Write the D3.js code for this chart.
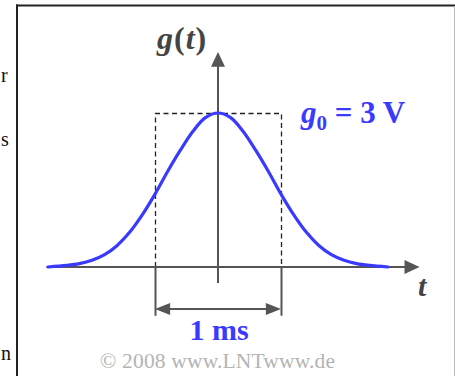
<!DOCTYPE html>
<html>
<head>
<meta charset="utf-8">
<script src="https://cdn.jsdelivr.net/npm/d3@7"></script>
<style>
  html, body { margin: 0; padding: 0; background: #fff; }
  svg { display: block; }
</style>
</head>
<body>
<script>
// Gaussian pulse g(t): time in ms, amplitude in volts
const tMs    = [-1.35, -1.2, -1.1, -1.0, -0.9, -0.8, -0.7, -0.6, -0.5, -0.4, -0.3, -0.2, -0.1, 0,
                 0.1, 0.2, 0.3, 0.4, 0.5, 0.6, 0.7, 0.8, 0.9, 1.0, 1.1, 1.2, 1.35];
const gVolts = [0.0, 0.03, 0.065, 0.13, 0.24, 0.42, 0.68, 1.02, 1.42, 1.86, 2.27, 2.64, 2.91, 3.0,
                2.91, 2.64, 2.27, 1.86, 1.42, 1.02, 0.68, 0.42, 0.24, 0.13, 0.065, 0.03, 0.0];
const g0 = 3;            // peak value in V
const pulseWidth = 1;    // equivalent width in ms
const labels = { y: "g(t)", x: "t", width: "1 ms", peak: "3 V", credit: "\u00A9 2008 www.LNTwww.de" };
const sideText = [{ s: "r", y: 82 }, { s: "s", y: 146 }, { s: "n", y: 360 }];

const W = 455, H = 376;
const svg = d3.select("body").append("svg").attr("width", W).attr("height", H);

const x = d3.scaleLinear().domain([-1, 1]).range([92, 344]);
const y = d3.scaleLinear().domain([0, 3]).range([267, 113]);

const axisColor = "#555";
const blue = "#3a3aff";

// ends of the neighbouring body text, left of the frame
svg.selectAll("text.side").data(sideText).enter().append("text")
  .attr("class", "side")
  .attr("x", 1).attr("y", d => d.y)
  .attr("font-family", "Liberation Serif, serif")
  .attr("font-size", 20).attr("fill", "#111")
  .text(d => d.s);

// frame
svg.append("line").attr("x1", 17).attr("x2", 17).attr("y1", 4.5).attr("y2", H)
  .attr("stroke", "#222").attr("stroke-width", 2);
svg.append("line").attr("x1", 16).attr("x2", W).attr("y1", 5.5).attr("y2", 5.5)
  .attr("stroke", "#222").attr("stroke-width", 2);
svg.append("line").attr("x1", 454.5).attr("x2", 454.5).attr("y1", 6).attr("y2", H)
  .attr("stroke", "#bbb").attr("stroke-width", 1);

// dashed rectangle of equal area
const dash = svg.append("g").attr("fill", "none").attr("stroke", "#222")
  .attr("stroke-width", 1.3).attr("stroke-dasharray", "5,3.5");
dash.append("path").attr("d", d3.line()([
  [x(-pulseWidth / 2) + 0.5, y(0)], [x(-pulseWidth / 2) + 0.5, y(g0) + 0.5],
  [x(pulseWidth / 2) + 0.5, y(g0) + 0.5], [x(pulseWidth / 2) + 0.5, y(0)]
]));

// axes
svg.append("line").attr("x1", x(-1.36)).attr("x2", x(1.5)).attr("y1", y(0)).attr("y2", y(0))
  .attr("stroke", axisColor).attr("stroke-width", 2);
svg.append("path")
  .attr("d", `M${x(1.6)},${y(0)} L${x(1.48)},${y(0) - 7} L${x(1.48)},${y(0) + 7} Z`)
  .attr("fill", axisColor);
svg.append("line").attr("x1", x(0)).attr("x2", x(0)).attr("y1", y(-0.31)).attr("y2", y(3.95))
  .attr("stroke", axisColor).attr("stroke-width", 2);
svg.append("path")
  .attr("d", `M${x(0)},${y(4.19)} L${x(0) - 7},${y(3.9)} L${x(0) + 7},${y(3.9)} Z`)
  .attr("fill", axisColor);

// width markers
[-pulseWidth / 2, pulseWidth / 2].forEach(t => {
  svg.append("line").attr("x1", x(t) + 0.5).attr("x2", x(t) + 0.5).attr("y1", y(0)).attr("y2", y(-0.95))
    .attr("stroke", axisColor).attr("stroke-width", 2);
});
const ay = y(-0.82);
svg.append("line").attr("x1", x(-0.4)).attr("x2", x(0.4)).attr("y1", ay).attr("y2", ay)
  .attr("stroke", axisColor).attr("stroke-width", 2);
svg.append("path")
  .attr("d", `M${x(-0.5)},${ay} L${x(-0.38)},${ay - 6} L${x(-0.38)},${ay + 6} Z`)
  .attr("fill", axisColor);
svg.append("path")
  .attr("d", `M${x(0.5)},${ay} L${x(0.38)},${ay - 6} L${x(0.38)},${ay + 6} Z`)
  .attr("fill", axisColor);

// pulse curve
const pts = tMs.map((t, i) => [x(t), y(gVolts[i])]);
svg.append("path")
  .attr("d", d3.line().curve(d3.curveCatmullRom)(pts))
  .attr("fill", "none").attr("stroke", blue).attr("stroke-width", 3.2)
  .attr("stroke-linecap", "round");

// labels
const serif = "Liberation Serif, Times New Roman, serif";
const yl = svg.append("text").attr("x", 157).attr("y", 49)
  .attr("font-family", serif).attr("font-size", 32).attr("font-weight", "bold")
  .attr("letter-spacing", 1).attr("fill", "#444");
yl.append("tspan").attr("font-style", "italic").text("g");
yl.append("tspan").text("(");
yl.append("tspan").attr("font-style", "italic").text("t");
yl.append("tspan").text(")");

svg.append("text").attr("x", 418).attr("y", 296)
  .attr("font-family", serif).attr("font-size", 30).attr("font-weight", "bold")
  .attr("font-style", "italic").attr("fill", "#444").text(labels.x);

const pl = svg.append("text").attr("x", 301).attr("y", 123)
  .attr("font-family", serif).attr("font-size", 31).attr("font-weight", "bold")
  .attr("fill", blue);
pl.append("tspan").attr("font-style", "italic").text("g");
pl.append("tspan").attr("font-size", 21).attr("dy", 7).text("0");
pl.append("tspan").attr("dy", -7).text(" = " + labels.peak);

svg.append("text").attr("x", x(0) + 1).attr("y", 340).attr("text-anchor", "middle")
  .attr("font-family", serif).attr("font-size", 30).attr("font-weight", "bold")
  .attr("fill", blue).text(labels.width);

svg.append("text").attr("x", 100).attr("y", 368)
  .attr("font-family", serif).attr("font-size", 21.5)
  .attr("fill", "#b4b4b4").attr("textLength", 235).attr("lengthAdjust", "spacing")
  .text(labels.credit);
</script>
</body>
</html>
